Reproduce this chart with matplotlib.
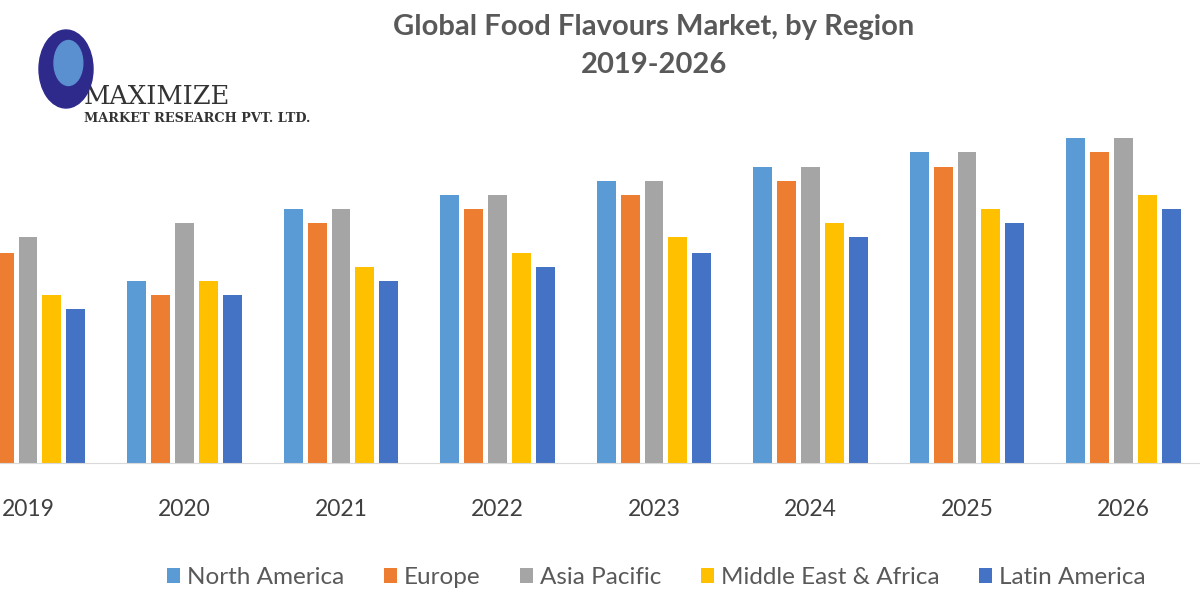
#!/usr/bin/env python3
import numpy as np
import matplotlib
matplotlib.use('Agg')
import matplotlib.pyplot as plt
from matplotlib.patches import Ellipse

years = ['2019', '2020', '2021', '2022', '2023', '2024', '2025', '2026']
regions = ['North America', 'Europe', 'Asia Pacific', 'Middle East & Africa', 'Latin America']
north_america = [22.5, 18.2, 25.4, 26.8, 28.2, 29.6, 31.1, 32.5]
europe = [21.0, 16.8, 24.0, 25.4, 26.8, 28.2, 29.6, 31.1]
asia_pacific = [22.6, 24.0, 25.4, 26.8, 28.2, 29.6, 31.1, 32.5]
middle_east_africa = [16.8, 18.2, 19.6, 21.0, 22.6, 24.0, 25.4, 26.8]
latin_america = [15.4, 16.8, 18.2, 19.6, 21.0, 22.6, 24.0, 25.4]
colors = ['#5B9BD5', '#ED7D31', '#A5A5A5', '#FFC000', '#4472C4']

plt.rcParams['font.family'] = ['Lato', 'DejaVu Sans']

def plot():
    fig = plt.figure(figsize=(12, 6), dpi=100)
    ax = fig.add_axes([0, 1 - 463 / 600, 1, 333 / 600])

    series = [north_america, europe, asia_pacific, middle_east_africa, latin_america]
    x = np.arange(len(years))
    pitch = 0.153
    width = 0.121
    for i, (name, vals) in enumerate(zip(regions, series)):
        ax.bar(x + (i - 2) * pitch, vals, width=width, color=colors[i], label=name)

    ax.set_xlim(-28 / 156.5, (1200 - 28) / 156.5)
    ax.set_ylim(0, 33.3)
    for s in ['top', 'right', 'left']:
        ax.spines[s].set_visible(False)
    ax.spines['bottom'].set_color('#D9D9D9')
    ax.set_yticks([])
    ax.set_xticks(x)
    ax.set_xticklabels(years, fontsize=16.5, color='#404040')
    ax.tick_params(axis='x', length=0, pad=26)

    fig.text(0.545, 0.955, 'Global Food Flavours Market, by Region',
             ha='center', va='center', fontsize=21, fontweight='bold', color='#595959')
    fig.text(0.545, 0.892, '2019-2026',
             ha='center', va='center', fontsize=21, fontweight='bold', color='#595959')

    # logo
    fig.patches.append(Ellipse((0.055, 0.885), 0.045, 0.13, transform=fig.transFigure,
                               color='#2E2A8C', zorder=5))
    fig.patches.append(Ellipse((0.057, 0.895), 0.024, 0.075, transform=fig.transFigure,
                               color='#5A8FD0', zorder=6))
    fig.text(0.07, 0.84, 'MAXIMIZE', fontsize=18.5, family='DejaVu Serif',
             color='#333333', ha='left', va='center')
    fig.text(0.07, 0.803, 'MARKET RESEARCH PVT. LTD.', fontsize=9.3, family='DejaVu Serif',
             fontweight='bold', color='#333333', ha='left', va='center')

    fig.legend(loc='center', bbox_to_anchor=(0.547, 0.037), ncol=5, frameon=False,
               fontsize=17.5, labelcolor='#595959', handlelength=0.55, handleheight=0.55,
               handletextpad=0.3, columnspacing=1.6)

    plt.savefig('out.png', dpi=100)

if __name__ == '__main__':
    plot()
